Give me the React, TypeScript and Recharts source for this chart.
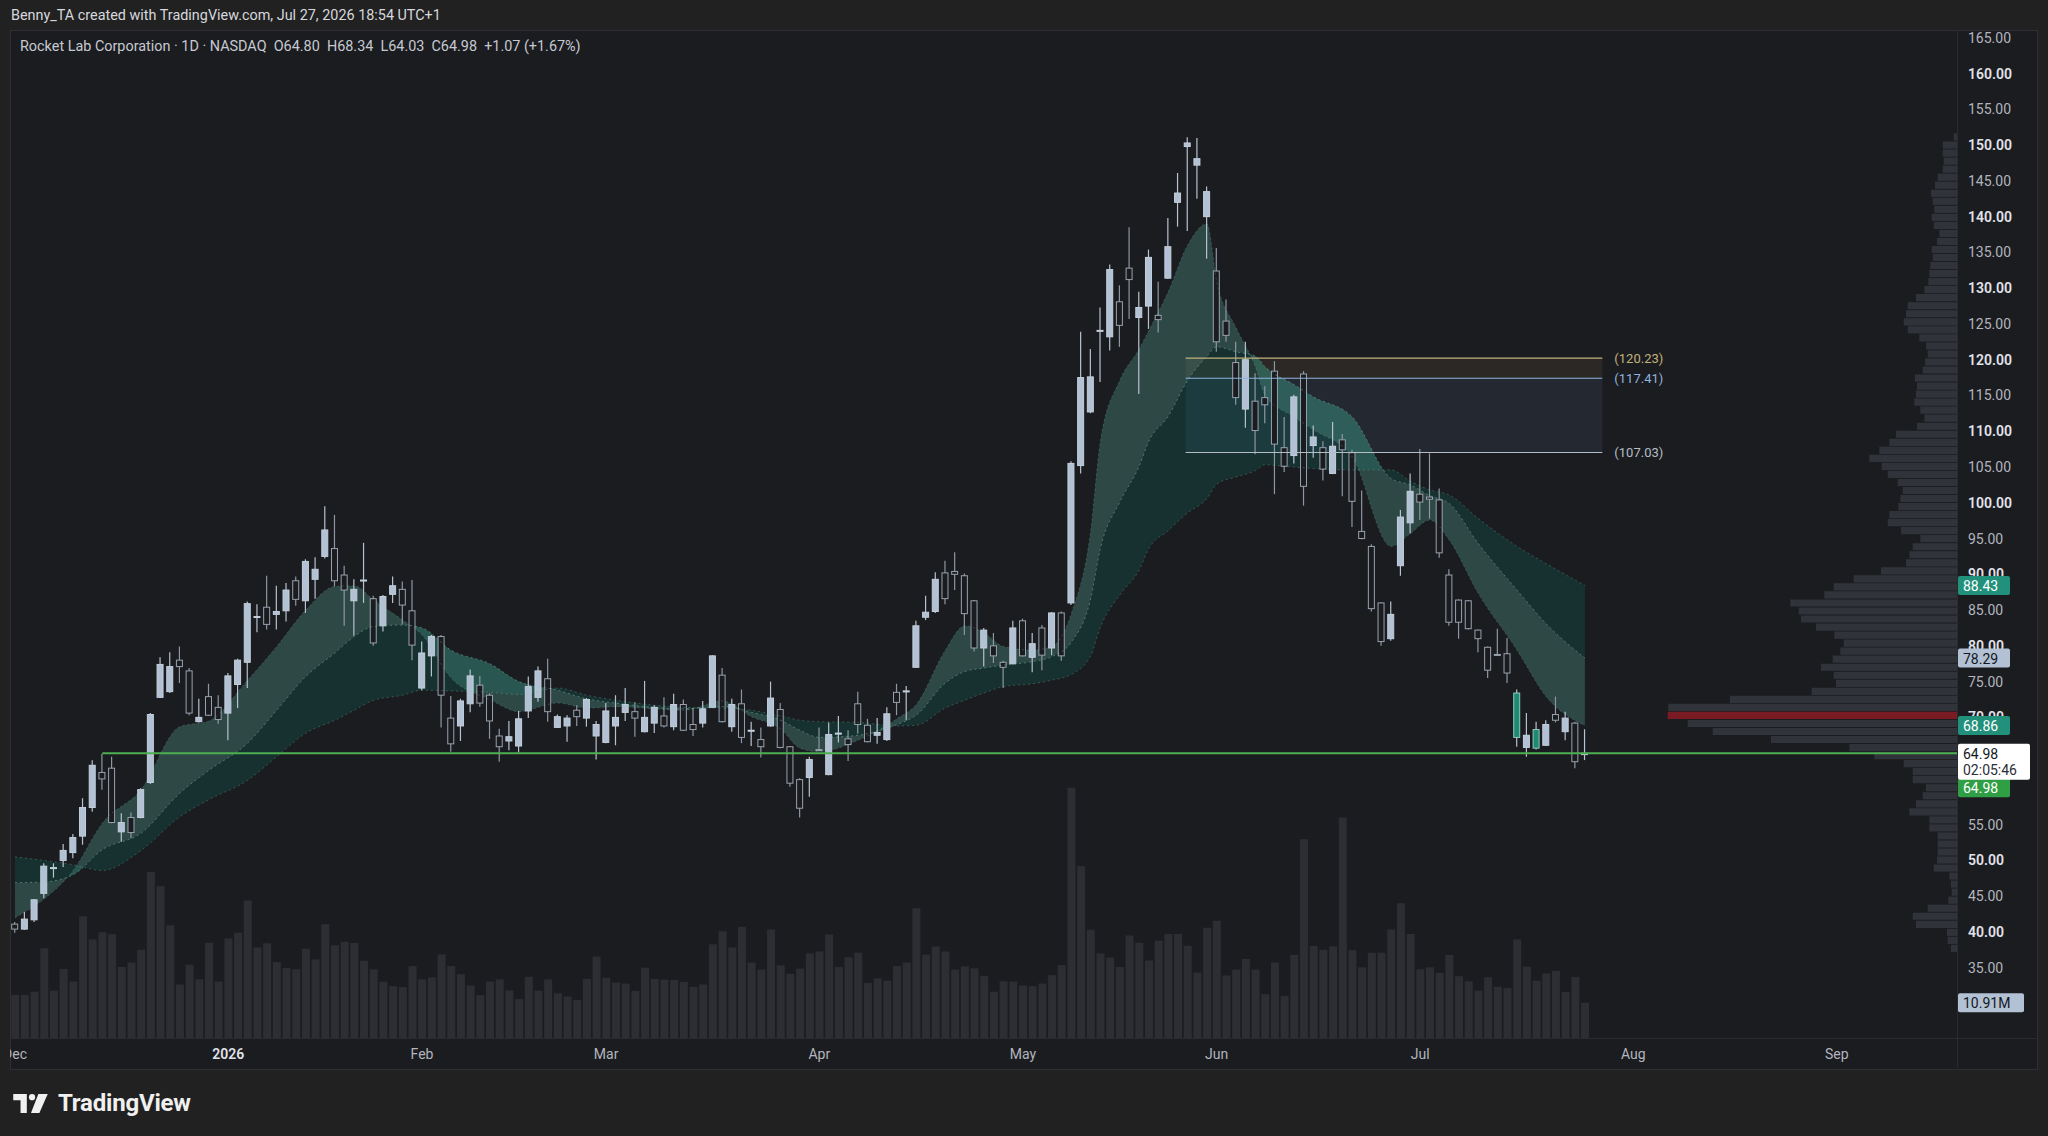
import React from 'react';
import { ComposedChart, Bar, Area, Line, XAxis, YAxis, ReferenceLine, ReferenceArea } from 'recharts';

const FONT = 'Roboto, "Noto Sans", sans-serif';

// daily candles, Dec 1 2025 .. Jul 27 2026
const opens = [
  41.1, 40.4, 41.7, 45.4, 48.9, 50.0, 51.1, 53.4, 57.4, 62.3, 62.9, 54.0, 56.0, 56.0, 60.9, 72.8, 73.6, 78.0, 76.5, 69.4,
  72.9, 71.4, 70.6, 74.6, 77.7, 84.0, 85.4, 84.4, 84.9, 89.1, 86.3, 89.3, 92.5, 93.6, 89.9, 86.3, 89.1, 86.6, 82.8, 87.2,
  87.9, 84.9, 74.1, 78.6, 81.3, 69.9, 68.8, 71.9, 74.5, 73.1, 67.4, 66.7, 66.0, 70.9, 72.8, 75.4, 68.6, 68.8, 71.0, 69.9,
  67.4, 66.5, 68.8, 70.7, 70.8, 68.0, 69.2, 70.2, 68.7, 71.8, 69.0, 69.2, 71.4, 75.9, 68.7, 71.9, 68.1, 66.9, 68.8, 71.1,
  65.9, 61.3, 61.6, 65.5, 62.0, 67.7, 67.0, 71.9, 68.9, 67.5, 66.9, 73.5, 73.6, 77.0, 84.0, 84.8, 90.2, 90.4, 89.8, 86.3,
  79.7, 80.0, 77.7, 77.5, 83.5, 78.4, 82.5, 79.7, 84.6, 86.0, 105.2, 112.7, 124.0, 123.2, 128.1, 132.8, 125.9, 127.5, 126.2, 131.4,
  142.0, 149.8, 147.2, 140.0, 132.4, 125.4, 119.6, 113.1, 114.2, 114.7, 118.4, 107.7, 106.6, 118.0, 108.0, 107.7, 104.1, 108.8, 107.0, 96.0,
  93.9, 86.0, 81.0, 91.2, 97.2, 101.2, 100.8, 100.4, 89.9, 86.4, 86.3, 82.2, 79.8, 78.8, 78.9, 67.2, 65.8, 65.7, 66.1, 70.4,
  68.0, 69.2, 64.8,
];
const highs = [
  41.4, 42.8, 44.6, 49.6, 49.6, 52.3, 53.7, 58.7, 64.0, 64.9, 64.5, 56.6, 56.7, 60.1, 70.6, 78.4, 79.1, 79.9, 76.9, 72.6,
  74.7, 73.1, 76.2, 78.2, 86.2, 85.8, 89.8, 88.4, 88.8, 89.7, 92.1, 92.4, 99.5, 98.3, 91.2, 89.3, 94.4, 87.0, 87.1, 89.7,
  89.0, 89.2, 80.6, 81.5, 81.5, 73.0, 72.6, 76.7, 75.8, 73.4, 68.4, 69.5, 70.9, 75.7, 77.1, 78.2, 70.4, 70.3, 71.7, 72.7,
  69.5, 72.0, 73.1, 74.1, 72.1, 75.1, 71.7, 72.8, 73.3, 72.5, 71.3, 72.3, 78.7, 76.9, 72.6, 73.9, 69.4, 68.6, 75.0, 72.0,
  66.0, 61.5, 64.5, 68.6, 69.3, 70.2, 68.2, 73.6, 69.8, 69.9, 71.4, 74.7, 74.4, 83.5, 87.0, 90.3, 91.9, 93.1, 90.1, 86.4,
  82.5, 81.8, 77.9, 83.5, 83.8, 81.8, 82.9, 84.7, 84.8, 105.8, 123.9, 121.5, 127.3, 133.3, 130.4, 138.5, 129.5, 135.4, 130.9, 139.8,
  146.1, 151.1, 151.0, 144.2, 135.6, 128.4, 122.5, 122.5, 118.1, 116.3, 119.8, 112.0, 115.1, 118.4, 110.8, 108.6, 111.3, 109.6, 107.4, 101.7,
  94.2, 86.1, 86.2, 99.0, 104.1, 107.5, 106.9, 102.0, 90.7, 86.5, 86.4, 82.3, 79.9, 82.4, 81.1, 73.9, 70.6, 69.4, 69.6, 72.9,
  70.8, 69.4, 68.34,
];
const lows = [
  39.9, 40.3, 41.4, 44.7, 47.6, 49.1, 50.3, 52.2, 56.8, 59.9, 55.2, 52.6, 53.1, 55.9, 60.7, 72.7, 73.4, 74.8, 70.3, 69.3,
  70.2, 69.1, 66.8, 71.3, 74.1, 81.9, 82.3, 82.3, 83.4, 85.6, 84.6, 86.6, 92.2, 88.3, 82.8, 81.4, 86.0, 80.0, 82.0, 86.0,
  83.0, 78.0, 73.8, 75.7, 68.6, 65.2, 66.7, 70.7, 71.5, 67.0, 63.8, 65.4, 65.1, 69.9, 72.2, 69.4, 68.5, 66.6, 68.8, 68.7,
  64.1, 66.4, 66.1, 69.5, 67.3, 67.9, 67.8, 68.6, 68.2, 68.1, 67.4, 68.6, 71.3, 69.3, 68.0, 66.4, 66.0, 64.4, 68.7, 65.7,
  60.3, 56.0, 58.9, 65.3, 61.9, 66.5, 63.9, 67.7, 66.5, 66.3, 66.7, 70.3, 69.6, 76.9, 83.6, 84.6, 85.8, 87.8, 81.5, 79.2,
  77.1, 77.6, 74.1, 77.4, 78.5, 76.3, 76.6, 78.7, 77.9, 85.7, 104.1, 112.5, 116.9, 121.3, 121.8, 125.7, 115.2, 124.3, 123.8, 131.3,
  138.6, 138.0, 142.5, 134.1, 121.1, 122.5, 113.7, 110.5, 106.8, 111.1, 101.2, 104.3, 105.5, 99.6, 106.3, 103.1, 104.0, 100.9, 96.6, 94.9,
  84.8, 80.0, 80.7, 89.8, 95.7, 97.6, 97.8, 92.3, 82.8, 81.0, 82.3, 79.1, 75.5, 78.6, 74.8, 65.9, 64.5, 65.5, 66.0, 69.3,
  66.8, 62.9, 64.03,
];
const closes = [
  40.4, 41.8, 44.5, 49.2, 49.0, 51.4, 53.2, 57.4, 63.3, 61.4, 55.3, 55.3, 53.9, 59.9, 70.4, 77.4, 77.1, 77.1, 70.6, 70.0,
  70.3, 69.7, 75.8, 78.0, 85.9, 84.1, 83.0, 84.8, 87.8, 86.5, 91.8, 90.7, 96.2, 89.1, 87.8, 87.9, 89.2, 80.4, 86.9, 88.4,
  85.7, 80.1, 79.0, 81.3, 73.1, 66.3, 72.3, 75.8, 72.0, 69.5, 65.9, 67.3, 69.8, 74.3, 76.5, 70.8, 70.1, 69.9, 70.1, 72.5,
  69.0, 70.9, 70.0, 71.8, 69.9, 70.0, 71.4, 68.8, 71.8, 68.2, 68.3, 71.2, 78.6, 69.4, 71.8, 67.2, 68.2, 65.9, 72.7, 65.8,
  60.8, 57.3, 64.1, 65.4, 67.6, 67.8, 66.2, 69.0, 66.6, 67.9, 70.5, 72.1, 73.7, 82.8, 84.7, 89.3, 86.6, 90.0, 84.5, 79.7,
  82.2, 78.6, 77.0, 82.5, 78.6, 80.3, 78.7, 84.6, 78.6, 105.5, 117.5, 117.6, 124.1, 132.6, 124.8, 131.2, 127.3, 134.3, 125.6, 135.8,
  143.3, 150.3, 148.1, 143.5, 122.5, 123.4, 114.7, 120.0, 110.1, 113.7, 108.2, 105.1, 114.8, 102.3, 109.2, 104.7, 107.9, 107.4, 100.2, 95.0,
  85.2, 80.6, 84.4, 98.0, 101.6, 100.1, 100.5, 93.0, 83.3, 83.3, 82.4, 81.0, 76.6, 78.7, 76.2, 73.4, 67.5, 68.3, 69.0, 69.6,
  69.9, 63.8, 64.98,
];
const tealBars = [156, 158];

// volume, millions
const volumes = [
  13.3, 13.3, 14.3, 27.7, 14.6, 21.3, 17.4, 37.6, 30.4, 32.6, 32.0, 21.9, 23.3, 27.2, 51.2, 46.8, 34.8, 16.5, 22.6, 18.1,
  29.4, 17.4, 30.7, 32.5, 42.4, 27.9, 29.2, 23.4, 21.6, 21.2, 27.5, 24.3, 35.1, 28.6, 29.7, 29.3, 23.8, 21.2, 17.4, 16.0,
  15.7, 22.2, 18.1, 18.7, 25.8, 22.2, 19.7, 16.2, 13.2, 17.4, 18.1, 14.7, 12.0, 18.9, 14.6, 18.1, 13.8, 12.8, 11.7, 18.2,
  25.1, 18.6, 17.1, 16.8, 14.5, 21.7, 18.2, 18.0, 17.9, 17.3, 15.8, 16.5, 28.9, 32.9, 27.9, 34.3, 23.3, 21.1, 33.5, 22.4,
  19.8, 21.4, 26.1, 26.7, 31.9, 21.9, 24.9, 26.3, 17.0, 18.4, 17.7, 22.2, 23.3, 40.0, 25.7, 28.2, 26.7, 21.1, 22.1, 21.5,
  19.1, 14.3, 17.5, 17.4, 16.2, 16.0, 16.8, 19.4, 22.5, 77.2, 53.0, 33.4, 26.1, 24.8, 21.9, 31.6, 29.4, 23.9, 30.0, 32.1,
  32.1, 28.5, 20.2, 34.0, 36.2, 19.3, 21.1, 24.4, 21.1, 13.5, 23.3, 13.0, 25.6, 61.3, 28.4, 27.2, 28.3, 68.0, 27.1, 21.8,
  26.3, 26.3, 33.5, 41.6, 32.1, 21.2, 21.8, 20.1, 25.6, 19.1, 17.5, 14.6, 18.7, 15.8, 15.4, 30.4, 22.0, 17.7, 19.9, 20.7,
  14.2, 18.8, 10.91,
];

// moving-average ribbon, read at these bars
const ribbonBars = [1, 4, 7, 10, 14, 18, 21, 25, 28, 31, 34, 36, 38, 41, 43, 46, 50, 53, 57, 60, 63, 67, 70, 74, 77, 80, 82, 84, 88, 92,
  94, 97, 99, 101, 103, 106, 108, 110, 112, 113, 115, 117, 118, 120, 122, 124, 125, 127, 129, 130, 133, 135, 139, 143, 145, 147, 149, 152, 156, 159, 163];
const ribbonFast = [42.0, 44.6, 48.6, 55.2, 59.9, 68.7, 69.5, 75.2, 79.9, 85.0, 88.3, 88.4, 86.4, 83.6, 81.5, 75.5, 72.5, 70.8, 72.0, 71.3, 71.5, 71.2, 71.0, 72.3, 70.1, 68.4, 65.7, 65.2, 66.8, 69.8,
  71.8, 79.4, 82.8, 81.8, 79.9, 79.4, 79.9, 84.5, 96.1, 108.6, 117.1, 121.5, 124.1, 129.5, 136.0, 139.0, 131.0, 124.5, 119.0, 115.0, 112.0, 110.2, 106.4, 93.9, 95.7, 97.6, 94.8, 87.3, 79.4, 72.9, 68.86];
const ribbonMid = [46.9, 47.0, 48.0, 51.5, 53.8, 59.4, 62.6, 66.4, 71.0, 75.7, 79.0, 81.3, 82.7, 82.9, 82.5, 79.4, 77.5, 75.0, 73.8, 72.6, 72.0, 71.4, 71.2, 71.5, 70.7, 69.6, 68.2, 67.2, 67.5, 69.0,
  70.3, 74.8, 76.4, 76.9, 77.3, 77.8, 78.5, 80.5, 86.6, 93.6, 100.1, 105.1, 108.6, 112.1, 117.1, 120.5, 121.8, 121.1, 120.5, 119.0, 116.5, 114.8, 112.0, 103.4, 102.5, 101.0, 99.9, 94.3, 87.8, 83.1, 78.29];
const ribbonSlow = [50.5, 50.0, 49.4, 48.6, 51.4, 56.1, 58.5, 61.2, 64.5, 67.8, 69.6, 71.0, 72.4, 73.1, 73.8, 73.7, 73.5, 73.2, 74.1, 73.1, 72.4, 71.7, 71.4, 71.3, 71.0, 70.2, 69.6, 69.4, 69.3, 68.8,
  68.9, 71.3, 72.4, 73.4, 74.3, 74.7, 75.2, 76.0, 78.6, 82.6, 87.1, 90.6, 93.6, 96.1, 98.6, 100.6, 102.6, 103.6, 104.5, 105.3, 105.0, 104.8, 104.6, 104.6, 103.0, 101.8, 101.1, 97.8, 93.9, 91.5, 88.43];

// visible-range volume profile, top row first
const profileVolumes = [
  3.3, 14.3, 14.3, 13.3, 14.3, 19.3, 22.0, 26.0, 24.3, 22.7, 25.3, 23.3, 17.7, 20.0, 25.3, 24.3, 26.7, 27.7, 28.7, 32.7,
  41.0, 49.3, 51.0, 53.3, 49.3, 37.7, 31.0, 29.3, 32.0, 34.3, 42.0, 40.0, 41.0, 42.7, 36.7, 32.7, 40.0, 61.0, 67.7, 77.7,
  87.7, 75.3, 69.3, 59.3, 54.3, 56.7, 58.7, 67.7, 69.3, 56.0, 36.7, 44.3, 47.7, 51.0, 76.0, 103.3, 123.3, 132.7, 166.7, 158.3,
  156.0, 141.0, 122.7, 113.3, 116.7, 124.3, 136.0, 123.3, 121.0, 145.3, 227.0, 288.7, 289.3, 269.3, 244.3, 186.0, 107.7, 82.7, 53.3, 44.3,
  44.3, 31.0, 34.3, 41.0, 47.7, 27.7, 27.7, 19.3, 19.3, 19.3, 20.0, 23.3, 7.7, 6.0, 5.3, 8.7, 29.3, 44.3, 41.0, 10.0,
  9.3, 6.0,
];
const profileTop = 151.63;
const profileRow = 1.123;
const pocRow = 72;

const monthBars = [1, 23, 43, 62, 84, 105, 125, 146, 168, 189];
const monthLabels = ['Dec', '2026', 'Feb', 'Mar', 'Apr', 'May', 'Jun', 'Jul', 'Aug', 'Sep'];
const priceTicks = [35, 40, 45, 50, 55, 60, 65, 70, 75, 80, 85, 90, 95, 100, 105, 110, 115, 120, 125, 130, 135, 140, 145, 150, 155, 160, 165];

const zoneLevels = [120.23, 117.41, 107.03];
const zoneColors = ['#c2b27c', '#8fb3de', '#b4bcc6'];
const zoneStart = 121.8;
const zoneEnd = 164.8;
const supportLevel = 64.98;
const supportStart = 10;

const X0 = 0.48;
const X1 = 201.4;
const PX_PER_BAR = 1947 / (X1 - X0);
const MARGIN = { top: 30, right: 0, bottom: 67, left: 10 };

const rows = opens.map((o, k) => {
  const i = k + 1;
  const r = ribbonBars.indexOf(i);
  return {
    i,
    open: o,
    high: highs[k],
    low: lows[k],
    close: closes[k],
    vol: volumes[k],
    teal: tealBars.includes(i),
    fast: r >= 0 ? ribbonFast[r] : null,
    mid: r >= 0 ? ribbonMid[r] : null,
    slow: r >= 0 ? ribbonSlow[r] : null,
  };
});

function Candle(props: any) {
  const { x, y, width, height, payload } = props;
  if (!payload || height == null || isNaN(y)) return null;
  const { open, close, high, low, teal } = payload;
  const k = height / (high - low);
  const yo = y + (high - open) * k;
  const yc = y + (high - close) * k;
  const up = close >= open;
  const cx = x + width / 2;
  const top = Math.min(yo, yc);
  const bh = Math.max(Math.abs(yc - yo), 1);
  const body = teal ? '#1f8a74' : up ? '#b2c1d3' : '#1b1c20';
  const edge = teal ? '#8fcabb' : up ? '#c3cfdc' : '#98a2ae';
  const wick = up || teal ? '#b6c2d0' : '#8d97a3';
  return (
    <g>
      <line x1={cx} x2={cx} y1={y} y2={y + height} stroke={wick} strokeWidth={1.2} />
      <rect x={x + 0.5} y={top} width={width - 1} height={bh} fill={body} stroke={edge} strokeWidth={1} />
    </g>
  );
}

function PriceTick({ x, y, payload }: any) {
  const v = payload.value;
  const major = v % 10 === 0;
  return (
    <text x={x + 11} y={y} dominantBaseline="central" fontSize={14} fontFamily={FONT}
      fontWeight={major ? 600 : 400} fill={major ? '#e1e3ea' : '#b2b5be'}>
      {v.toFixed(2)}
    </text>
  );
}

function MonthTick({ x, y, index }: any) {
  const label = monthLabels[index] ?? '';
  const bold = label === '2026';
  return (
    <text x={x} y={y + 16} textAnchor="middle" dominantBaseline="central" fontSize={14} fontFamily={FONT}
      fontWeight={bold ? 600 : 400} fill={bold ? '#e1e3ea' : '#b2b5be'}>
      {label}
    </text>
  );
}

const tag = (text: string, bg: string, fg: string, dy = 0, w = 52) => (p: any) => {
  const vb = p.viewBox || {};
  const x = vb.x + vb.width + 1;
  const y = vb.y + dy;
  return (
    <g>
      <rect x={x} y={y - 9.5} width={w} height={19} rx={2} fill={bg} />
      <text x={x + 5} y={y + 0.5} dominantBaseline="central" fontSize={14} fontFamily={FONT} fill={fg}>{text}</text>
    </g>
  );
};

const countdown = (p: any) => {
  const vb = p.viewBox || {};
  const x = vb.x + vb.width + 1;
  const y = vb.y;
  return (
    <g>
      <rect x={x} y={y - 9.5} width={72} height={36} rx={2} fill="#ffffff" />
      <text x={x + 5} y={y + 0.5} dominantBaseline="central" fontSize={14} fontFamily={FONT} fill="#131722">64.98</text>
      <text x={x + 5} y={y + 17} dominantBaseline="central" fontSize={14} fontFamily={FONT} fill="#2a2e39">02:05:46</text>
    </g>
  );
};

const zoneLabel = (value: number, color: string) => (p: any) => {
  const vb = p.viewBox || {};
  return (
    <text x={vb.x + vb.width + 12} y={vb.y} dominantBaseline="central" fontSize={13} fontFamily={FONT} fill={color}>
      ({value.toFixed(2)})
    </text>
  );
};

// shared axes; showTicks=false keeps the same plot box for the overlay layer
function Axes(showTicks: boolean) {
  return [
    <XAxis key="x" xAxisId="x" dataKey="i" type="number" domain={[X0, X1]} allowDataOverflow ticks={monthBars}
      tick={showTicks ? <MonthTick /> : false} interval={0} axisLine={false} tickLine={false} tickSize={0} tickMargin={0} height={31} />,
    <XAxis key="xv" xAxisId="xv" dataKey="i" type="number" domain={[X0, X1]} allowDataOverflow hide />,
    <YAxis key="p" yAxisId="p" orientation="right" domain={[25.18, 166.09]} allowDataOverflow ticks={priceTicks}
      tick={showTicks ? <PriceTick /> : false} interval={0} axisLine={false} tickLine={false} tickSize={0} tickMargin={0} width={91} />,
    <YAxis key="v" yAxisId="v" domain={[0, 311]} allowDataOverflow hide />,
  ];
}

export default function App() {
  return (
    <div style={{ position: 'absolute', left: 0, top: 0, width: 2048, height: 1136, background: '#212121', overflow: 'hidden', fontFamily: FONT }}>
      <div style={{ position: 'absolute', left: 10, top: 30, width: 2026, height: 1038, background: '#1b1c20', border: '1px solid #2e2f33' }} />
      <div style={{ position: 'absolute', left: 1957, top: 31, width: 1, height: 1037, background: '#2a2b2f' }} />
      <div style={{ position: 'absolute', left: 11, top: 1038, width: 2026, height: 1, background: '#2a2b2f' }} />
      <div style={{ position: 'absolute', left: 11, top: 7, fontSize: 14.4, color: '#d6d8de', whiteSpace: 'nowrap' }}>
        Benny_TA created with TradingView.com, Jul 27, 2026 18:54 UTC+1
      </div>
      <div style={{ position: 'absolute', left: 20, top: 38, fontSize: 14.4, color: '#c6c9d0', whiteSpace: 'pre' }}>
        {'Rocket Lab Corporation · 1D · NASDAQ  O64.80  H68.34  L64.03  C64.98  +1.07 (+1.67%)'}
      </div>
      <div style={{ position: 'absolute', left: 0, top: 0 }}>
        <ComposedChart width={2048} height={1136} data={rows} margin={MARGIN}>
          {Axes(true)}

          {profileVolumes.map((v, k) => (
            <ReferenceArea key={'pf' + k} xAxisId="x" yAxisId="p"
              x1={X1 - v / PX_PER_BAR} x2={X1}
              y1={profileTop - (k + 1) * profileRow + 0.12} y2={profileTop - k * profileRow}
              fill={k === pocRow ? '#7a1b24' : '#303339'} fillOpacity={1} stroke="none" />
          ))}

          <ReferenceArea xAxisId="x" yAxisId="p" x1={zoneStart} x2={zoneEnd} y1={zoneLevels[1]} y2={zoneLevels[0]}
            fill="#6e5a3c" fillOpacity={0.2} stroke="none" />
          <ReferenceArea xAxisId="x" yAxisId="p" x1={zoneStart} x2={zoneEnd} y1={zoneLevels[2]} y2={zoneLevels[1]}
            fill="#5a78aa" fillOpacity={0.13} stroke="none" />

          <Bar xAxisId="xv" yAxisId="v" dataKey="vol" fill="#2c2e33" barSize={8} isAnimationActive={false} />

          <Area xAxisId="x" yAxisId="p" type="monotone" connectNulls isAnimationActive={false}
            dataKey={(d: any) => (d.mid == null ? null : [d.slow, d.mid])}
            fill="rgb(0,150,120)" fillOpacity={0.18} stroke="none" activeDot={false} />
          <Area xAxisId="x" yAxisId="p" type="monotone" connectNulls isAnimationActive={false}
            dataKey={(d: any) => (d.mid == null ? null : [d.fast, d.mid])}
            fill="rgb(85,165,150)" fillOpacity={0.32} stroke="none" activeDot={false} />
          <Line xAxisId="x" yAxisId="p" type="monotone" dataKey="mid" connectNulls dot={false} activeDot={false}
            stroke="rgba(130,200,180,0.45)" strokeWidth={1} strokeDasharray="2 3" isAnimationActive={false} />
          <Line xAxisId="x" yAxisId="p" type="monotone" dataKey="slow" connectNulls dot={false} activeDot={false}
            stroke="rgba(130,200,180,0.3)" strokeWidth={1} strokeDasharray="2 3" isAnimationActive={false} />
          <Line xAxisId="x" yAxisId="p" type="monotone" dataKey="fast" connectNulls dot={false} activeDot={false}
            stroke="rgba(130,200,180,0.25)" strokeWidth={1} strokeDasharray="2 3" isAnimationActive={false} />

          {zoneLevels.map((lvl, k) => (
            <ReferenceLine key={'z' + k} xAxisId="x" yAxisId="p"
              segment={[{ x: zoneStart, y: lvl }, { x: zoneEnd, y: lvl }]}
              stroke={zoneColors[k]} strokeWidth={1.2} label={zoneLabel(lvl, zoneColors[k])} />
          ))}
          <ReferenceLine xAxisId="x" yAxisId="p" segment={[{ x: supportStart, y: supportLevel }, { x: X1, y: supportLevel }]}
            stroke="#4caf50" strokeWidth={2} />

          <Bar xAxisId="x" yAxisId="p" dataKey={(d: any) => [d.low, d.high]} shape={<Candle />} barSize={7}
            isAnimationActive={false} />
        </ComposedChart>
      </div>
      {/* price tags sit above the axis labels */}
      <div style={{ position: 'absolute', left: 0, top: 0 }}>
        <ComposedChart width={2048} height={1136} data={rows} margin={MARGIN}>
          {Axes(false)}
          <ReferenceLine xAxisId="x" yAxisId="p" y={88.43} stroke="none" label={tag('88.43', '#22917c', '#ffffff')} />
          <ReferenceLine xAxisId="x" yAxisId="p" y={78.29} stroke="none" label={tag('78.29', '#b2c1d3', '#131722')} />
          <ReferenceLine xAxisId="x" yAxisId="p" y={68.86} stroke="none" label={tag('68.86', '#22917c', '#ffffff')} />
          <ReferenceLine xAxisId="x" yAxisId="p" y={supportLevel} stroke="none" label={tag('64.98', '#2f9e44', '#ffffff', 34.5)} />
          <ReferenceLine xAxisId="x" yAxisId="p" y={closes[closes.length - 1]} stroke="none" label={countdown} />
          <ReferenceLine xAxisId="xv" yAxisId="v" y={volumes[volumes.length - 1]} stroke="none"
            label={tag('10.91M', '#b2c1d3', '#131722', 0, 66)} />
        </ComposedChart>
      </div>
      <div style={{ position: 'absolute', left: 0, top: 1040, width: 10, height: 28, background: '#212121' }} />
      <div style={{ position: 'absolute', left: 13, top: 1089, display: 'flex', alignItems: 'center', gap: 9 }}>
        <svg width={36} height={23} viewBox="0 0 34 22">
          <path d="M0 2h13v18H7V8H0z" fill="#f0f0f0" />
          <circle cx={18} cy={5} r={3} fill="#f0f0f0" />
          <path d="M24 2h9l-8 18h-8z" fill="#f0f0f0" />
        </svg>
        <span style={{ fontSize: 24, fontWeight: 700, color: '#f0f0f0', letterSpacing: -0.2 }}>TradingView</span>
      </div>
    </div>
  );
}
